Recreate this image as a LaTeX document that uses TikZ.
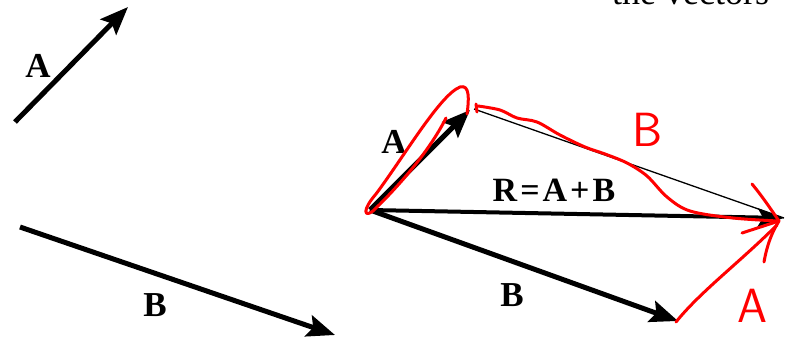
\documentclass[tikz,border=0pt]{standalone}
\usepackage{fontspec}
\setmainfont{Liberation Serif}
\usetikzlibrary{arrows.meta}
\begin{document}
\begin{tikzpicture}[x=1pt,y=-1pt,
  vec/.style={line width=5pt,-{Stealth[length=28pt,width=22pt,inset=5pt]}},
  rvec/.style={line width=4pt,-{Stealth[length=26pt,width=18pt,inset=5pt]}},
  thinline/.style={line width=1.3pt},
  lbl/.style={font=\bfseries\fontsize{35}{35}\selectfont,inner sep=0pt},
  redpen/.style={draw=red,line width=3pt,line cap=round,line join=round},
  hand/.style={text=red,font=\sffamily\fontsize{48}{48}\selectfont,inner sep=0pt}]
\useasboundingbox (0,0) rectangle (790,342);
\fill[white] (0,0) rectangle (790,342);
% cut-off text at top
\node[anchor=base west,font=\fontsize{36}{36}\selectfont,inner sep=0pt] (top) at (612,5) {the vectors};
% left vectors
\coordinate (la0) at (15,122);
\coordinate (la1) at (128,7);
\coordinate (lb0) at (20,227);
\coordinate (lb1) at (335,335);
\draw[vec] (la0) -- (la1);
\draw[vec] (lb0) -- (lb1);
\node[lbl] (labA) at (38,66) {A};
\node[lbl] (labB) at (155,305) {B};
% right figure
\coordinate (o) at (370,210);
\coordinate (at) at (470,110);
\coordinate (bt) at (678,321);
\coordinate (rt) at (784,218);
\coordinate (ts) at (474,109);
\draw[thinline] (ts) -- (rt);
\draw[vec] (o) -- (at);
\draw[vec] (o) -- (bt);
\draw[rvec] (o) -- (rt);
\node[lbl] (rA) at (394,142) {A};
\node[lbl] (rB) at (512,295) {B};
\node[lbl,font=\bfseries\fontsize{34}{34}\selectfont] (rR) at (554,190) {R\kern3pt=\kern3pt A\kern3pt+\kern3pt B};
% red annotations
\draw[redpen] (446,118) .. controls (430,150) and (400,185) .. (373,211)
  .. controls (364,218) and (362,210) .. (376,194)
  .. controls (405,155) and (440,95) .. (460,87)
  .. controls (470,84) and (469,100) .. (467,114);
\draw[redpen] (476,104) -- (477,112);
\draw[redpen] plot[smooth,tension=0.55] coordinates {(478,106) (500,110) (517,118) (537,122) (560,135) (585,147) (605,154) (627,163) (647,176) (667,197) (690,211) (733,218) (778,221)};
\draw[redpen] (752,184) .. controls (762,196) and (770,208) .. (779,221);
\draw[redpen] (742,233) -- (779,221);
\draw[redpen] (764,262) .. controls (767,245) and (772,232) .. (779,221);
\draw[redpen] (676,322) .. controls (700,292) and (740,262) .. (777,225);
\node[hand] (hB) at (648,130) {B};
\node[hand] (hA) at (752,306) {A};
\end{tikzpicture}
\end{document}
